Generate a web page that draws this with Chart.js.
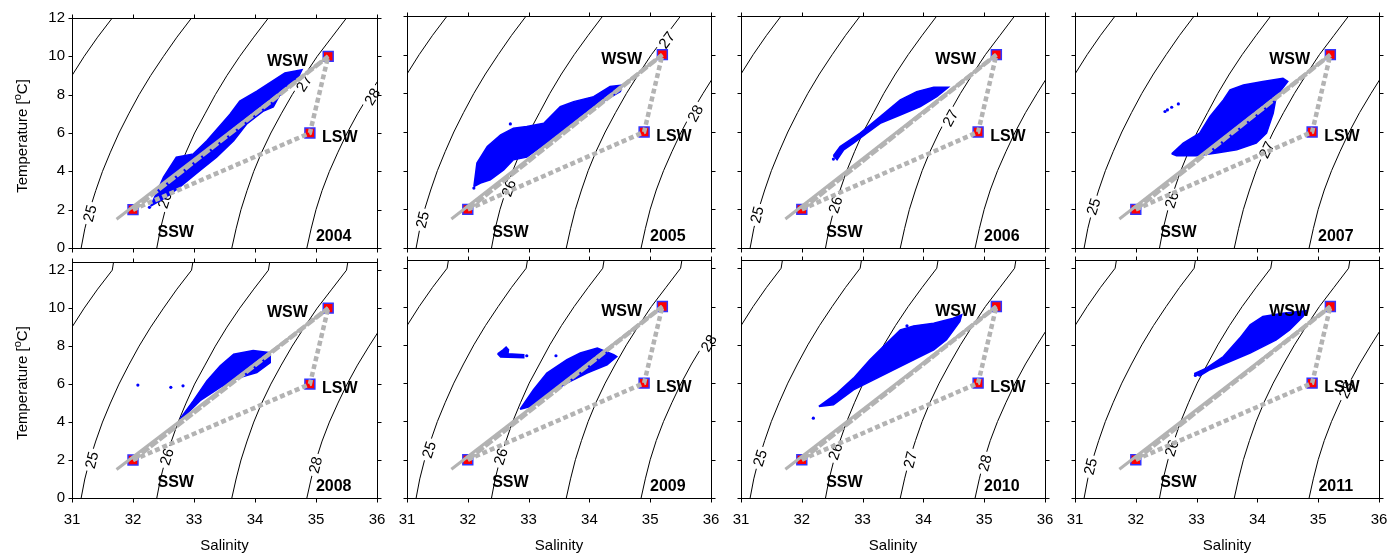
<!DOCTYPE html>
<html>
<head>
<meta charset="utf-8">
<title>T-S diagrams 2004-2011</title>
<script src="https://cdn.jsdelivr.net/npm/chart.js@4.4.0/dist/chart.umd.min.js"></script>
<style>
  html, body { margin: 0; padding: 0; background: #fff; }
  #wrap { position: relative; width: 1389px; height: 556px; overflow: hidden; }
  #wrap canvas { position: absolute; }
</style>
</head>
<body>
<div id="wrap"></div>
<script>
// ---- data ----
const years = ['2004', '2005', '2006', '2007', '2008', '2009', '2010', '2011'];
const xTicks = [31, 32, 33, 34, 35, 36];
const yTicks = [0, 2, 4, 6, 8, 10, 12];

// density (sigma-t) contours: salinity where each contour crosses these temperatures
const contourLevels = [24, 25, 26, 27, 28];
const contourTemp = [0, 1, 2, 3, 4, 5, 6, 7, 8, 9, 10, 11, 12, 12.6];
const sal24 = [29.88, 29.94, 30.02, 30.11, 30.22, 30.35, 30.49, 30.64, 30.81, 31.00, 31.20, 31.42, 31.66, 31.69];
const sal25 = [31.15, 31.21, 31.29, 31.39, 31.50, 31.63, 31.77, 31.93, 32.10, 32.29, 32.50, 32.72, 32.96, 32.99];
const sal26 = [32.39, 32.45, 32.53, 32.63, 32.74, 32.87, 33.01, 33.18, 33.35, 33.54, 33.75, 33.98, 34.22, 34.25];
const sal27 = [33.62, 33.69, 33.77, 33.87, 33.98, 34.11, 34.26, 34.43, 34.61, 34.81, 35.02, 35.26, 35.50, 35.53];
const sal28 = [34.85, 34.92, 35.00, 35.10, 35.22, 35.36, 35.51, 35.68, 35.87, 36.07, 36.30, 36.53, 36.79, 36.82];
const contourSal = { 24: sal24, 25: sal25, 26: sal26, 27: sal27, 28: sal28 };

// water mass end members
const massNames = ['SSW', 'WSW', 'LSW'];
const massSal = [32.0, 35.2, 34.9];
const massTemp = [2.0, 10.0, 6.0];
const mixStart = [31.73, 1.5];

// observed T-S clouds (outline of the dense blue area), per year
const cloud2004 = [[32.29, 2.19], [32.50, 3.70], [32.71, 4.74], [32.99, 4.91], [33.21, 5.60], [33.59, 6.98], [33.75, 7.67], [34.03, 8.18], [34.49, 9.13], [34.77, 9.30], [34.69, 8.79], [34.40, 7.95], [34.30, 7.36], [34.14, 7.15], [33.86, 6.46], [33.65, 5.60], [33.37, 4.74], [33.10, 4.05], [32.77, 3.19], [32.55, 2.67], [32.29, 2.19]];
const cloud2005 = [[32.10, 3.18], [32.15, 4.39], [32.32, 5.25], [32.54, 5.85], [32.75, 6.20], [32.97, 6.28], [33.25, 6.45], [33.52, 7.31], [33.74, 7.57], [34.07, 7.83], [34.34, 8.35], [34.54, 8.43], [34.51, 8.09], [34.18, 7.50], [33.85, 6.70], [33.52, 5.90], [33.19, 5.20], [32.97, 4.70], [32.75, 4.56], [32.59, 4.04], [32.37, 3.53], [32.21, 3.36], [32.10, 3.18]];
const cloud2006 = [[32.52, 4.77], [32.63, 5.25], [32.96, 5.94], [33.29, 6.80], [33.62, 7.66], [33.89, 8.09], [34.17, 8.31], [34.41, 8.31], [34.22, 7.83], [33.95, 7.31], [33.62, 6.88], [33.29, 6.45], [33.07, 5.94], [32.85, 5.42], [32.69, 5.08], [32.58, 4.56], [32.52, 4.77]];
const cloud2007 = [[32.59, 4.87], [32.78, 5.42], [33.05, 5.94], [33.22, 6.80], [33.44, 7.66], [33.55, 8.18], [33.77, 8.43], [34.09, 8.61], [34.42, 8.78], [34.50, 8.61], [34.31, 7.83], [34.26, 6.97], [34.15, 5.94], [33.98, 5.42], [33.66, 5.08], [33.33, 4.91], [33.00, 4.77], [32.67, 4.77], [32.59, 4.87]];
const cloud2008 = [[32.77, 4.17], [32.99, 5.13], [33.21, 6.17], [33.43, 6.96], [33.65, 7.57], [33.97, 7.77], [34.25, 7.65], [34.25, 7.13], [34.03, 6.61], [33.75, 6.35], [33.43, 5.83], [33.10, 5.13], [32.88, 4.43], [32.77, 4.17]];
const cloud2009 = [[32.86, 4.64], [33.08, 5.65], [33.30, 6.52], [33.63, 7.22], [33.85, 7.57], [34.13, 7.83], [34.40, 7.48], [34.45, 7.39], [34.29, 6.96], [33.96, 6.52], [33.63, 6.00], [33.30, 5.39], [33.03, 4.78], [32.86, 4.64]];
const streak2009 = [[32.49, 7.53], [32.58, 7.74], [32.63, 7.88], [32.67, 7.74], [32.66, 7.53], [32.92, 7.48], [32.92, 7.32], [32.54, 7.36], [32.49, 7.53]];
const cloud2010 = [[32.28, 4.78], [32.58, 5.48], [32.85, 6.26], [33.12, 7.22], [33.34, 7.91], [33.62, 8.78], [33.84, 8.99], [34.17, 9.13], [34.49, 9.39], [34.63, 9.57], [34.60, 9.22], [34.38, 8.26], [34.17, 7.74], [33.84, 7.22], [33.51, 6.70], [33.18, 6.17], [32.85, 5.65], [32.52, 4.87], [32.28, 4.78]];
const cloud2011 = [[32.96, 6.49], [33.16, 6.78], [33.44, 7.39], [33.71, 8.35], [33.88, 9.04], [34.09, 9.48], [34.42, 9.65], [34.81, 9.79], [34.75, 9.48], [34.53, 8.78], [34.31, 8.26], [33.88, 7.57], [33.55, 7.13], [33.22, 6.70], [33.05, 6.38], [32.96, 6.49]];
const clouds = [[cloud2004], [cloud2005], [cloud2006], [cloud2007], [cloud2008], [cloud2009, streak2009], [cloud2010], [cloud2011]];

// isolated observations outside the clouds
const dots2004 = [[32.27, 2.12]];
const dots2005 = [[32.70, 6.42], [32.10, 3.10]];
const dots2006 = [[32.52, 4.60]];
const dots2007 = [[32.48, 7.06], [32.52, 7.14], [32.59, 7.28], [32.70, 7.45]];
const dots2008 = [[32.08, 5.95], [32.62, 5.83], [32.82, 5.91]];
const dots2009 = [[32.97, 7.43], [33.45, 7.43]];
const dots2010 = [[32.19, 4.17], [33.73, 8.99], [33.80, 8.85]];
const dots2011 = [[32.98, 6.40]];
const dots = [dots2004, dots2005, dots2006, dots2007, dots2008, dots2009, dots2010, dots2011];

// contour labels [level, salinity, temperature]
const contourLabels = [
  [[25, 31.29, 1.81], [26, 32.52, 2.50], [27, 34.80, 8.60], [28, 35.92, 7.90]],
  [[25, 31.25, 1.46], [26, 32.67, 3.10], [27, 35.27, 10.76], [28, 35.74, 6.97]],
  [[25, 31.26, 1.72], [26, 32.55, 2.24], [27, 34.44, 6.72]],
  [[25, 31.30, 2.15], [26, 32.59, 2.50], [27, 34.15, 5.08]],
  [[25, 31.32, 2.00], [26, 32.55, 2.17], [28, 34.99, 1.74]],
  [[25, 31.36, 2.52], [26, 32.54, 2.17], [28, 35.96, 8.09]],
  [[25, 31.31, 2.09], [26, 32.55, 2.43], [27, 33.78, 2.00], [28, 35.01, 1.83]],
  [[25, 31.25, 1.65], [26, 32.59, 2.61], [28, 35.46, 5.65]]
];

// ---- layout ----
const colLeft = [72, 407, 741, 1075];
const plotW = [305, 304, 304, 304];
const rowTop = [16, 260];
const rowBottom = [248, 498];
const rowTempMax = [12, 12.43];
const textPos = { WSW: [34.53, 9.75], LSW: [35.39, 5.78], SSW: [32.70, 0.80], year: [35.29, 0.60] };
const MARGIN = 14;

const FONT = '"Liberation Sans", Arial, Helvetica, sans-serif';
const GRAY = '#b3b3b3';
Chart.defaults.font.family = FONT;
Chart.defaults.color = '#000';

const pt = (p) => ({ x: p[0], y: p[1] });
const mass = (k) => ({ x: massSal[k], y: massTemp[k] });

function buildDatasets(i) {
  const ds = [];
  // mixing lines, drawn on top
  ds.push({ data: [pt(mixStart), mass(1)], showLine: true, borderColor: GRAY, borderWidth: 3, pointRadius: 0, order: 1 });
  ds.push({ data: [mass(0), mass(1)], showLine: true, borderColor: GRAY, borderWidth: 4.5, borderDash: [9, 2], pointRadius: 0, order: 1 });
  ds.push({ data: [mass(0), mass(2), mass(1)], showLine: true, borderColor: GRAY, borderWidth: 4.5, borderDash: [5, 3], pointRadius: 0, order: 1 });
  // end members
  ds.push({
    data: massNames.map((n, k) => mass(k)), showLine: false, pointStyle: 'rect', pointRadius: 7,
    backgroundColor: '#ff0000', borderColor: '#3333ff', borderWidth: 1.5, order: 2
  });
  // observations
  ds.push({ data: dots[i].map(pt), showLine: false, pointRadius: 1.6, backgroundColor: '#0000ff', borderWidth: 0, order: 3 });
  clouds[i].forEach((poly) => {
    ds.push({
      data: poly.map(pt), showLine: true, fill: 'shape', tension: 0,
      backgroundColor: '#0000ff', borderColor: '#0000ff', borderWidth: 1.5, pointRadius: 0, order: 3
    });
  });
  // density contours, drawn first
  contourLevels.forEach((lv, k) => {
    ds.push({
      data: contourSal[lv].map((s, j) => ({ x: s, y: contourTemp[j] })),
      showLine: true, borderColor: '#000', borderWidth: 1, pointRadius: 0, tension: 0,
      order: 4, isFirstContour: k === 0
    });
  });
  return ds;
}

function drawContourLabels(chart, list) {
  const { ctx, scales: { x, y } } = chart;
  ctx.save();
  ctx.font = '15px ' + FONT;
  ctx.textAlign = 'center';
  ctx.textBaseline = 'middle';
  list.forEach(([lv, s, t]) => {
    const sal = contourSal[lv];
    let j = 0;
    while (j < contourTemp.length - 3 && contourTemp[j + 1] < t) j++;
    const ang = Math.atan2(
      y.getPixelForValue(contourTemp[j + 1]) - y.getPixelForValue(contourTemp[j]),
      x.getPixelForValue(sal[j + 1]) - x.getPixelForValue(sal[j])
    );
    const txt = String(lv);
    const w = ctx.measureText(txt).width;
    ctx.save();
    ctx.translate(x.getPixelForValue(s), y.getPixelForValue(t));
    ctx.rotate(ang);
    ctx.fillStyle = '#fff';
    ctx.fillRect(-w / 2 - 3, -6, w + 6, 12);
    ctx.fillStyle = '#000';
    ctx.fillText(txt, 0, 1);
    ctx.restore();
  });
  ctx.restore();
}

function drawFrame(chart) {
  const { ctx, chartArea: a, scales: { x, y } } = chart;
  const l = Math.round(a.left) + 0.5, r = Math.round(a.right) + 0.5;
  const t = Math.round(a.top) + 0.5, b = Math.round(a.bottom) + 0.5;
  ctx.save();
  ctx.strokeStyle = '#000';
  ctx.lineWidth = 1;
  ctx.strokeRect(l, t, r - l, b - t);
  ctx.beginPath();
  xTicks.forEach((v) => {
    const px = Math.round(x.getPixelForValue(v)) + 0.5;
    ctx.moveTo(px, b); ctx.lineTo(px, b + 4);
    ctx.moveTo(px, t); ctx.lineTo(px, t - 4);
  });
  yTicks.forEach((v) => {
    const py = Math.round(y.getPixelForValue(v)) + 0.5;
    ctx.moveTo(l, py); ctx.lineTo(l - 4, py);
    ctx.moveTo(r, py); ctx.lineTo(r + 4, py);
  });
  ctx.stroke();
  ctx.restore();
}

// salinity tick labels and axis title under the bottom row
function drawXAxis(chart) {
  const { ctx, chartArea: a, scales: { x } } = chart;
  ctx.save();
  ctx.fillStyle = '#000';
  ctx.textAlign = 'center';
  ctx.textBaseline = 'middle';
  ctx.font = '15px ' + FONT;
  xTicks.forEach((v) => ctx.fillText(String(v), x.getPixelForValue(v), a.bottom + 22));
  ctx.fillText('Salinity', (a.left + a.right) / 2, a.bottom + 48);
  ctx.restore();
}

function drawNames(chart, year) {
  const { ctx, scales: { x, y } } = chart;
  ctx.save();
  ctx.font = 'bold 16px ' + FONT;
  ctx.fillStyle = '#000';
  ctx.textAlign = 'center';
  ctx.textBaseline = 'middle';
  massNames.forEach((n) => {
    const p = textPos[n];
    ctx.fillText(n, x.getPixelForValue(p[0]), y.getPixelForValue(p[1]));
  });
  ctx.fillText(year, x.getPixelForValue(textPos.year[0]), y.getPixelForValue(textPos.year[1]));
  ctx.restore();
}

function drawYTitle(chart, canvasLeft) {
  const { ctx, chartArea: a } = chart;
  const big = '15px ' + FONT, small = '11px ' + FONT;
  ctx.save();
  ctx.translate(22 - canvasLeft, (a.top + a.bottom) / 2 + 3);
  ctx.rotate(-Math.PI / 2);
  ctx.fillStyle = '#000';
  ctx.textAlign = 'left';
  ctx.textBaseline = 'alphabetic';
  ctx.font = big;
  const w1 = ctx.measureText('Temperature [').width;
  const w3 = ctx.measureText('C]').width;
  ctx.font = small;
  const w2 = ctx.measureText('o').width;
  let xx = -(w1 + w2 + w3) / 2;
  ctx.font = big; ctx.fillText('Temperature [', xx, 5); xx += w1;
  ctx.font = small; ctx.fillText('o', xx, -1.5); xx += w2;
  ctx.font = big; ctx.fillText('C]', xx, 5);
  ctx.restore();
}

function makeDecor(i, canvasLeft) {
  const col = i % 4, row = Math.floor(i / 4);
  return {
    id: 'tsDecor' + i,
    afterDatasetDraw(chart, args) {
      if (chart.data.datasets[args.index].isFirstContour) drawContourLabels(chart, contourLabels[i]);
    },
    afterDatasetsDraw(chart) {
      drawNames(chart, years[i]);
      drawFrame(chart);
    },
    afterDraw(chart) {
      if (col === 0) drawYTitle(chart, canvasLeft);
      if (row === 1) drawXAxis(chart);
    }
  };
}

const wrap = document.getElementById('wrap');
years.forEach((yr, i) => {
  const col = i % 4, row = Math.floor(i / 4);
  const axisW = col === 0 ? 72 : 0;
  const plotH = rowBottom[row] - rowTop[row];
  const canvasLeft = Math.max(colLeft[col] - axisW - MARGIN, 0);
  const canvasTop = rowTop[row] - MARGIN;
  const width = colLeft[col] + plotW[col] + MARGIN - canvasLeft;
  const height = row === 1 ? 556 - canvasTop : MARGIN + plotH + 16;
  const canvas = document.createElement('canvas');
  canvas.width = width;
  canvas.height = height;
  canvas.style.width = width + 'px';
  canvas.style.height = height + 'px';
  canvas.style.left = canvasLeft + 'px';
  canvas.style.top = canvasTop + 'px';
  wrap.appendChild(canvas);

  // wanted plot area, in canvas pixels
  const want = {
    left: colLeft[col] - canvasLeft,
    right: colLeft[col] + plotW[col] - canvasLeft,
    top: rowTop[row] - canvasTop,
    bottom: rowBottom[row] - canvasTop
  };
  const pad = {
    left: want.left - axisW,
    right: width - want.right,
    top: want.top,
    bottom: height - want.bottom
  };

  const chart = new Chart(canvas, {
    type: 'scatter',
    data: { datasets: buildDatasets(i) },
    options: {
      responsive: false,
      devicePixelRatio: 1,
      animation: false,
      events: [],
      layout: { padding: pad },
      plugins: { legend: { display: false }, tooltip: { enabled: false } },
      scales: {
        x: {
          type: 'linear', min: 31, max: 36, display: false,
          afterBuildTicks: (s) => { s.ticks = xTicks.map((v) => ({ value: v })); }
        },
        y: {
          type: 'linear', min: 0, max: rowTempMax[row], display: col === 0,
          grid: { display: false, drawTicks: false }, border: { display: false },
          ticks: { font: { size: 15 }, padding: 7, color: '#000' },
          afterBuildTicks: (s) => { s.ticks = yTicks.map((v) => ({ value: v })); },
          afterFit: (s) => { s.width = axisW; }
        }
      }
    },
    plugins: [makeDecor(i, canvasLeft)]
  });

  // nudge the layout padding until the plot area sits where the figure has it
  for (let k = 0; k < 5; k++) {
    const a = chart.chartArea;
    const dl = want.left - a.left, dr = a.right - want.right;
    const dt = want.top - a.top, db = a.bottom - want.bottom;
    if (Math.abs(dl) + Math.abs(dr) + Math.abs(dt) + Math.abs(db) < 0.5) break;
    pad.left += dl; pad.right += dr; pad.top += dt; pad.bottom += db;
    chart.options.layout.padding = { left: pad.left, right: pad.right, top: pad.top, bottom: pad.bottom };
    chart.update();
  }
});
</script>
</body>
</html>
